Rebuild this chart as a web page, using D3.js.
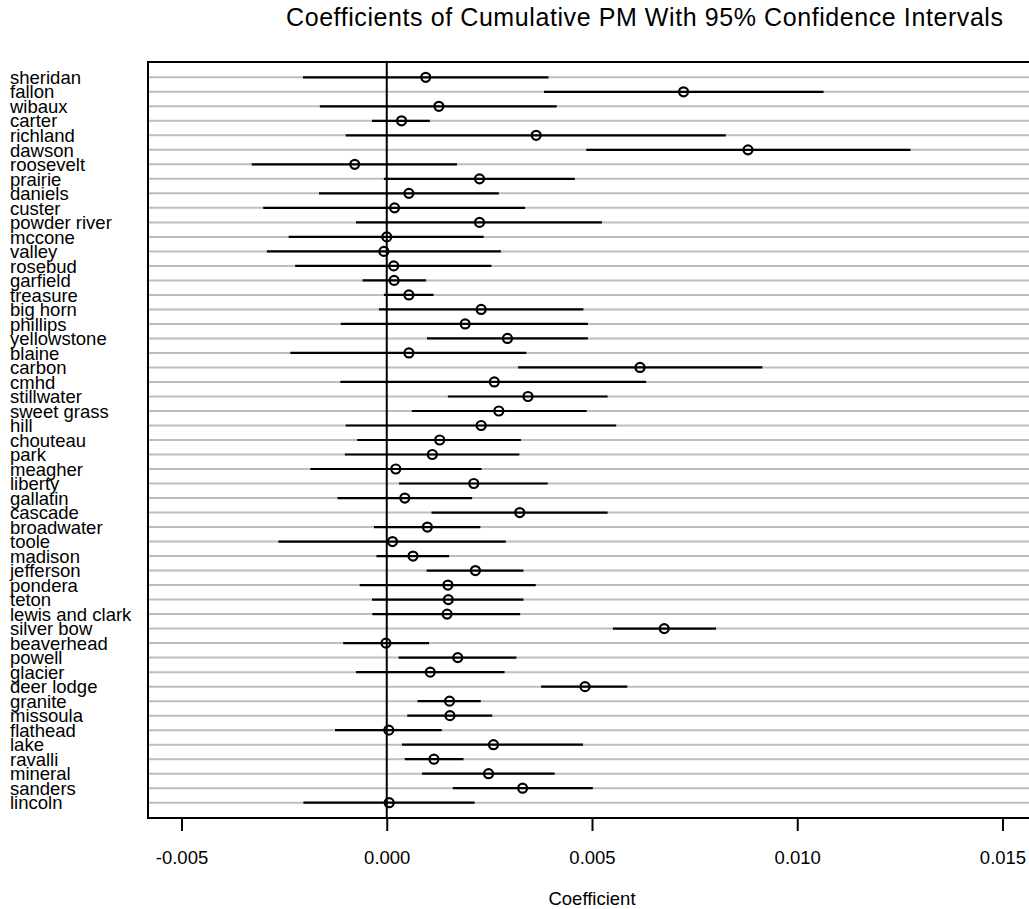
<!DOCTYPE html>
<html>
<head>
<meta charset="utf-8">
<script src="https://cdn.jsdelivr.net/npm/d3@7"></script>
<style>
  body { margin: 0; background: #fff; }
  text { font-family: 'Liberation Sans', Arial, sans-serif; fill: #000; }
</style>
</head>
<body>
<svg id="chart" width="1029" height="909"></svg>
<script>
// counties, top to bottom
const counties = ['sheridan', 'fallon', 'wibaux', 'carter', 'richland', 'dawson', 'roosevelt',
  'prairie', 'daniels', 'custer', 'powder river', 'mccone', 'valley', 'rosebud', 'garfield',
  'treasure', 'big horn', 'phillips', 'yellowstone', 'blaine', 'carbon', 'cmhd', 'stillwater',
  'sweet grass', 'hill', 'chouteau', 'park', 'meagher', 'liberty', 'gallatin', 'cascade',
  'broadwater', 'toole', 'madison', 'jefferson', 'pondera', 'teton', 'lewis and clark',
  'silver bow', 'beaverhead', 'powell', 'glacier', 'deer lodge', 'granite', 'missoula',
  'flathead', 'lake', 'ravalli', 'mineral', 'sanders', 'lincoln']

const estimate = [0.00095, 0.00723, 0.00127, 0.00036, 0.00364, 0.00880, -0.00078,
  0.00226, 0.00054, 0.00019, 0.00226, 0.00000, -0.00007, 0.00017, 0.00018,
  0.00054, 0.00230, 0.00191, 0.00294, 0.00054, 0.00617, 0.00262, 0.00344,
  0.00273, 0.00230, 0.00129, 0.00111, 0.00022, 0.00212, 0.00044, 0.00324,
  0.00099, 0.00014, 0.00064, 0.00216, 0.00149, 0.00150, 0.00147,
  0.00676, -0.00002, 0.00173, 0.00106, 0.00483, 0.00153, 0.00154,
  0.00005, 0.00260, 0.00115, 0.00248, 0.00331, 0.00006]

const lower = [-0.00204, 0.00383, -0.00163, -0.00036, -0.00100, 0.00486, -0.00329,
  -0.00007, -0.00165, -0.00301, -0.00075, -0.00239, -0.00292, -0.00223, -0.00059,
  -0.00007, -0.00019, -0.00112, 0.00098, -0.00235, 0.00320, -0.00113, 0.00149,
  0.00061, -0.00100, -0.00072, -0.00102, -0.00186, 0.00030, -0.00120, 0.00109,
  -0.00031, -0.00264, -0.00025, 0.00097, -0.00066, -0.00036, -0.00035,
  0.00551, -0.00106, 0.00029, -0.00075, 0.00376, 0.00075, 0.00050,
  -0.00126, 0.00037, 0.00044, 0.00086, 0.00161, -0.00203]

const upper = [0.00394, 0.01064, 0.00414, 0.00105, 0.00826, 0.01276, 0.00171,
  0.00458, 0.00273, 0.00337, 0.00524, 0.00236, 0.00278, 0.00255, 0.00096,
  0.00114, 0.00479, 0.00490, 0.00490, 0.00340, 0.00915, 0.00632, 0.00538,
  0.00487, 0.00559, 0.00327, 0.00323, 0.00231, 0.00392, 0.00208, 0.00538,
  0.00228, 0.00290, 0.00152, 0.00333, 0.00363, 0.00333, 0.00325,
  0.00802, 0.00103, 0.00316, 0.00287, 0.00586, 0.00229, 0.00257,
  0.00134, 0.00478, 0.00187, 0.00409, 0.00502, 0.00214]

const xTicks = [-0.005, 0, 0.005, 0.01, 0.015]

const rows = counties.map((name, i) => ({ name: name, est: estimate[i], lo: lower[i], hi: upper[i] }))

const svg = d3.select('#chart')

// plot box (right edge falls outside the picture)
const box = { left: 148, top: 62, right: 1140, bottom: 818 }

const xScale = d3.scaleLinear()
  .domain([-0.005, 0.015])
  .range([181.5, 1002.5])

const yScale = d3.scalePoint()
  .domain(counties)
  .range([77.3, 802.7])

svg.append('text')
  .attr('x', 286)
  .attr('y', 26)
  .attr('textLength', 717)
  .attr('lengthAdjust', 'spacing')
  .style('font-size', '25px')
  .text('Coefficients of Cumulative PM With 95% Confidence Intervals')

// grey guide line per county
svg.selectAll('line.guide').data(rows)
  .enter()
  .append('line')
  .attr('class', 'guide')
  .attr('x1', box.left)
  .attr('x2', box.right)
  .attr('y1', d => yScale(d.name))
  .attr('y2', d => yScale(d.name))
  .attr('stroke', '#bebebe')
  .attr('stroke-width', 2)

// zero line
svg.append('line')
  .attr('x1', xScale(0))
  .attr('x2', xScale(0))
  .attr('y1', box.top)
  .attr('y2', box.bottom)
  .attr('stroke', '#000')
  .attr('stroke-width', 2)

// confidence intervals
svg.selectAll('line.ci').data(rows)
  .enter()
  .append('line')
  .attr('class', 'ci')
  .attr('x1', d => xScale(d.lo))
  .attr('x2', d => xScale(d.hi))
  .attr('y1', d => yScale(d.name))
  .attr('y2', d => yScale(d.name))
  .attr('stroke', '#000')
  .attr('stroke-width', 2.2)

svg.selectAll('circle').data(rows)
  .enter()
  .append('circle')
  .attr('cx', d => xScale(d.est))
  .attr('cy', d => yScale(d.name))
  .attr('r', 4.5)
  .attr('fill', 'none')
  .attr('stroke', '#000')
  .attr('stroke-width', 2.2)

svg.append('rect')
  .attr('x', box.left)
  .attr('y', box.top)
  .attr('width', box.right - box.left)
  .attr('height', box.bottom - box.top)
  .attr('fill', 'none')
  .attr('stroke', '#000')
  .attr('stroke-width', 2)

// county labels
svg.selectAll('text.county').data(rows)
  .enter()
  .append('text')
  .attr('class', 'county')
  .attr('x', 10)
  .attr('y', d => yScale(d.name))
  .attr('dy', '0.36em')
  .style('font-size', '18.5px')
  .text(d => d.name)

// x axis
const xAxis = d3.axisBottom(xScale)
  .tickValues(xTicks)
  .tickSize(13)
  .tickPadding(20)
  .tickFormat(d3.format('.3f'))

const gx = svg.append('g')
  .attr('transform', `translate(0,${box.bottom})`)
  .call(xAxis)
gx.select('.domain').remove()
gx.selectAll('line').attr('stroke', '#000').attr('stroke-width', 2)
gx.selectAll('text')
  .style('font-size', '18.5px')
  .attr('font-family', null)
  .text(d => d3.format('.3f')(d).replace('−', '-'))

svg.append('text')
  .attr('x', 592)
  .attr('y', 905)
  .attr('text-anchor', 'middle')
  .style('font-size', '18.5px')
  .text('Coefficient')
</script>
</body>
</html>
